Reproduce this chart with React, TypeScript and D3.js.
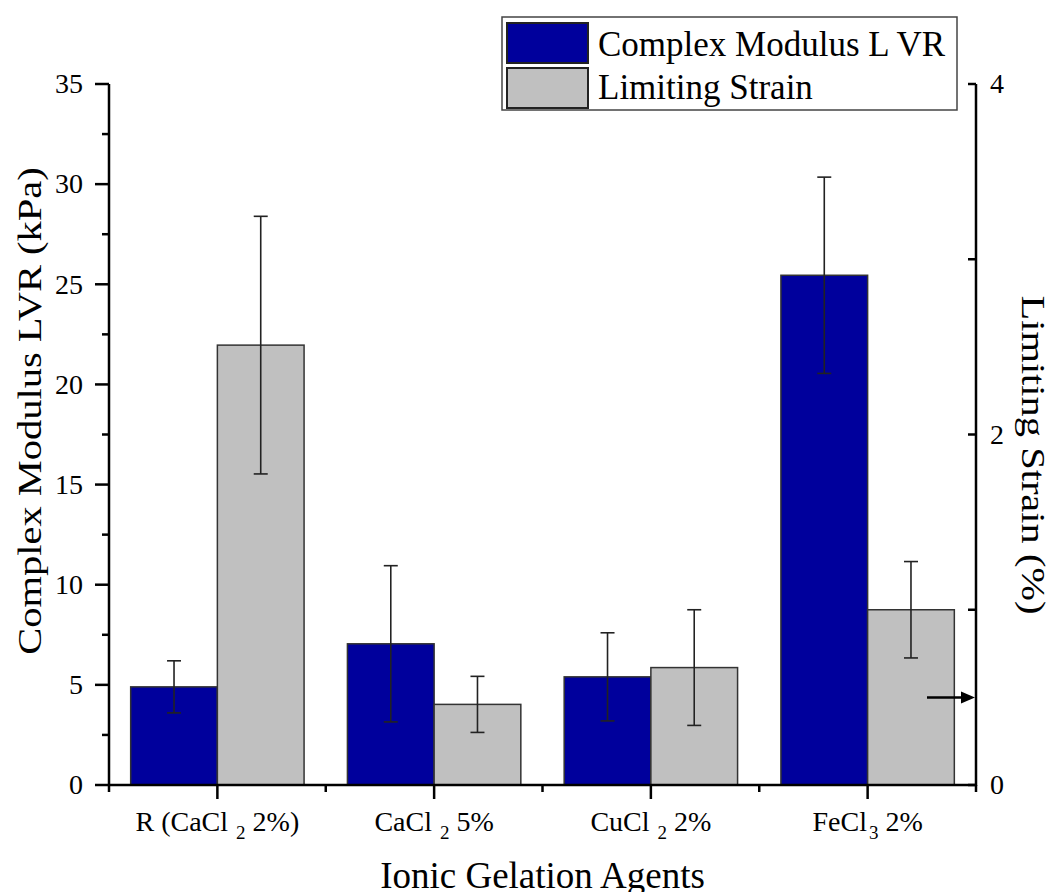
import React from "react";
import * as d3 from "d3";

// Categories (ionic gelation agents) with chemical-formula subscripts
const categories = ["R (CaCl2 2%)", "CaCl2 5%", "CuCl2 2%", "FeCl3 2%"];
const categoryLabelParts: { t: string; sub?: boolean }[][] = [
  [{ t: "R (CaCl" }, { t: "2", sub: true }, { t: " 2%)" }],
  [{ t: "CaCl" }, { t: "2", sub: true }, { t: " 5%" }],
  [{ t: "CuCl" }, { t: "2", sub: true }, { t: " 2%" }],
  [{ t: "FeCl" }, { t: "3", sub: true }, { t: " 2%" }],
];

// Complex modulus in the linear viscoelastic region (kPa)
const modulusValues = [4.9, 7.05, 5.4, 25.45];
const modulusErrors = [1.3, 3.9, 2.2, 4.9];

// Limiting strain (%)
const strainValues = [2.51, 0.46, 0.67, 1.0];
const strainErrors = [0.735, 0.16, 0.33, 0.275];

const leftTicks = [0, 5, 10, 15, 20, 25, 30, 35];
const leftMinorTicks = [2.5, 7.5, 12.5, 17.5, 22.5, 27.5, 32.5];
const rightTicks = [0, 1, 2, 3, 4];
const rightTickLabels = [0, 2, 4];

// Value marked by the arrow pointing at the strain axis
const arrowStrain = 0.5;

const legendItems = ["Complex Modulus L VR", "Limiting Strain"];

const BLUE = "#00009c";
const GRAY = "#c0c0c0";
const FONT = "'Liberation Serif', 'Times New Roman', serif";

export default function App() {
  const W = 1054;
  const H = 892;
  const left = 109;
  const right = 976;
  const top = 84;
  const bottom = 785;

  const x = d3
    .scaleLinear()
    .domain([0.5, categories.length + 0.5])
    .range([left, right]);
  const yL = d3.scaleLinear().domain([0, 35]).range([bottom, top]);
  const yR = d3.scaleLinear().domain([0, 4]).range([bottom, top]);
  const barW = 0.4; // fraction of the category step

  const step = x(2) - x(1);
  const bw = step * barW;
  const cap = 7;

  // axis titles are drawn in a tall, narrow face: stretch along the reading direction
  const titleStretch = 1.19;

  const errBar = (cx: number, yTop: number, yBot: number, key: string) => (
    <g key={key} stroke="#222" strokeWidth={1.6}>
      <line x1={cx} x2={cx} y1={yTop} y2={yBot} />
      <line x1={cx - cap} x2={cx + cap} y1={yTop} y2={yTop} />
      <line x1={cx - cap} x2={cx + cap} y1={yBot} y2={yBot} />
    </g>
  );

  return (
    <svg
      width={W}
      height={H}
      style={{ position: "absolute", left: 0, top: 0, background: "#fff" }}
      fontFamily={FONT}
    >
      {/* Bars */}
      {categories.map((c, i) => {
        const cx = x(i + 1);
        return (
          <g key={c}>
            <rect
              x={cx - bw}
              y={yL(modulusValues[i])}
              width={bw}
              height={yL(0) - yL(modulusValues[i])}
              fill={BLUE}
              stroke="#333"
              strokeWidth={1.5}
            />
            <rect
              x={cx}
              y={yR(strainValues[i])}
              width={bw}
              height={yR(0) - yR(strainValues[i])}
              fill={GRAY}
              stroke="#333"
              strokeWidth={1.5}
            />
          </g>
        );
      })}

      {/* Error bars */}
      {categories.map((c, i) => {
        const cx1 = x(i + 1) - bw / 2;
        const cx2 = x(i + 1) + bw / 2;
        return (
          <g key={"e" + c}>
            {errBar(
              cx1,
              yL(modulusValues[i] + modulusErrors[i]),
              yL(modulusValues[i] - modulusErrors[i]),
              "m" + i
            )}
            {errBar(
              cx2,
              yR(strainValues[i] + strainErrors[i]),
              yR(strainValues[i] - strainErrors[i]),
              "s" + i
            )}
          </g>
        );
      })}

      {/* Left axis */}
      <g stroke="#000" strokeWidth={2.5}>
        <line x1={left} x2={left} y1={top} y2={bottom + 1} />
        {leftTicks.map((t) => (
          <line key={t} x1={left - 14} x2={left} y1={yL(t)} y2={yL(t)} />
        ))}
        {leftMinorTicks.map((t) => (
          <line key={t} x1={left - 7} x2={left} y1={yL(t)} y2={yL(t)} />
        ))}
      </g>
      {leftTicks.map((t) => (
        <text
          key={t}
          x={left - 26}
          y={yL(t)}
          dy="0.33em"
          textAnchor="end"
          fontSize={28}
          fill="#000"
        >
          {t}
        </text>
      ))}
      <text
        transform={`translate(41,${411}) rotate(-90) scale(${titleStretch},1)`}
        textAnchor="middle"
        fontSize={34}
        fill="#000"
      >
        Complex Modulus LVR (kPa)
      </text>

      {/* Right axis */}
      <g stroke="#000" strokeWidth={2.5}>
        <line x1={right} x2={right} y1={top} y2={bottom + 1} />
        {rightTicks.map((t) => (
          <line key={t} x1={right - 8} x2={right} y1={yR(t)} y2={yR(t)} />
        ))}
      </g>
      {rightTickLabels.map((t) => (
        <text
          key={t}
          x={right + 14}
          y={yR(t)}
          dy="0.33em"
          textAnchor="start"
          fontSize={28}
          fill="#000"
        >
          {t}
        </text>
      ))}
      <text
        transform={`translate(1022,${455}) rotate(90) scale(${titleStretch},1)`}
        textAnchor="middle"
        fontSize={34}
        fill="#000"
      >
        Limiting Strain (%)
      </text>

      {/* Bottom axis */}
      <g stroke="#000" strokeWidth={2.5}>
        <line x1={left - 1} x2={right + 1} y1={bottom} y2={bottom} />
        {categories.map((c, i) => (
          <line key={c} x1={x(i + 1)} x2={x(i + 1)} y1={bottom} y2={bottom + 14} />
        ))}
        {d3.range(0, categories.length + 1).map((k) => (
          <line
            key={"m" + k}
            x1={x(k + 0.5)}
            x2={x(k + 0.5)}
            y1={bottom}
            y2={bottom + 7}
          />
        ))}
      </g>
      {categoryLabelParts.map((parts, i) => (
        <text
          key={categories[i]}
          x={x(i + 1)}
          y={831}
          textAnchor="middle"
          fontSize={28}
          fill="#000"
        >
          {parts.map((p, j) =>
            p.sub ? (
              <tspan key={j} dx={p.t === "3" ? 2 : 8} dy={8} fontSize={19}>
                {p.t}
              </tspan>
            ) : (
              <tspan key={j} dy={j > 0 ? -8 : 0}>
                {p.t}
              </tspan>
            )
          )}
        </text>
      ))}
      <text
        x={(left + right) / 2}
        y={888}
        textAnchor="middle"
        fontSize={37}
        fill="#000"
      >
        Ionic Gelation Agents
      </text>

      {/* Arrow pointing to the strain axis */}
      <g>
        <line
          x1={927}
          x2={right - 12}
          y1={yR(arrowStrain)}
          y2={yR(arrowStrain)}
          stroke="#000"
          strokeWidth={2.5}
        />
        <path
          d={`M${right - 1},${yR(arrowStrain)} L${right - 15},${yR(arrowStrain) - 6} L${right - 15},${yR(arrowStrain) + 6} Z`}
          fill="#000"
        />
      </g>

      {/* Legend */}
      <g>
        <rect
          x={502}
          y={17}
          width={455}
          height={93}
          fill="#fff"
          stroke="#444"
          strokeWidth={1.5}
        />
        {legendItems.map((l, i) => (
          <g key={l}>
            <rect
              x={507}
              y={23 + i * 45}
              width={81}
              height={40}
              fill={i === 0 ? BLUE : GRAY}
              stroke="#222"
              strokeWidth={2}
            />
            <text x={598} y={56 + i * 43} fontSize={35} fill="#000">
              {l}
            </text>
          </g>
        ))}
      </g>
    </svg>
  );
}
